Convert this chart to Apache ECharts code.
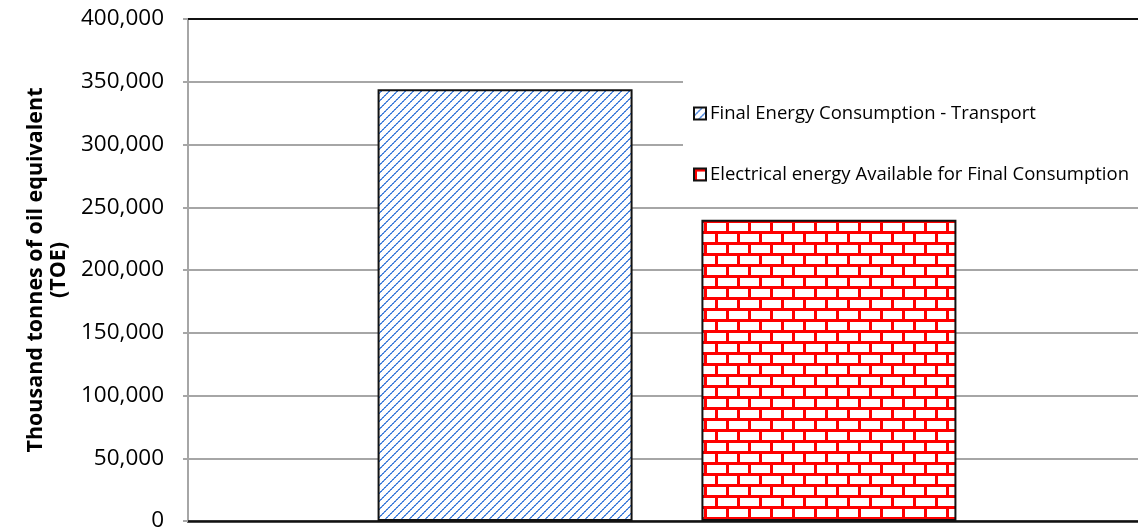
<!DOCTYPE html>
<html>
<head>
<meta charset="utf-8">
<script src="https://cdn.jsdelivr.net/npm/echarts@6/dist/echarts.min.js"></script>
<style>
  html, body { margin: 0; padding: 0; background: #fff; }
  #chart { width: 1138px; height: 530px; }
</style>
</head>
<body>
<div id="chart"></div>
<script>
// Energy totals, thousand tonnes of oil equivalent
const categories = ['Total'];
const seriesNames = [
  'Final Energy Consumption - Transport',
  'Electrical energy Available for Final Consumption'
];
const transportValues = [344000];
const electricalValues = [240000];
const yTicks = [0, 50000, 100000, 150000, 200000, 250000, 300000, 350000, 400000];

const FONT = '"Open Sans", "Liberation Sans", sans-serif';

// Dotted upward-diagonal fill in blue (two-pixel strokes)
function diagonalPattern() {
  const n = 8;
  const c = document.createElement('canvas');
  c.width = n; c.height = n;
  const g = c.getContext('2d');
  g.fillStyle = '#ffffff';
  g.fillRect(0, 0, n, n);
  for (let i = 0; i < n; i++) {
    g.fillStyle = (i % 2 === 0) ? '#3c7ad8' : '#6f9ee6';
    g.fillRect(i, n - 1 - i, 1, 1);
    g.fillRect((i + 1) % n, n - 1 - i, 1, 1);
  }
  return c;
}

// Red brick fill
function brickPattern() {
  const w = 22, h = 22, row = 11, lw = 3;
  const c = document.createElement('canvas');
  c.width = w; c.height = h;
  const g = c.getContext('2d');
  g.fillStyle = '#fff';
  g.fillRect(0, 0, w, h);
  g.fillStyle = '#ff0000';
  g.fillRect(0, 0, w, lw);
  g.fillRect(0, row, w, lw);
  g.fillRect(0, 0, lw, row);
  g.fillRect(w / 2, row, lw, row);
  return c;
}

const chart = echarts.init(document.getElementById('chart'), null, { renderer: 'canvas' });

chart.setOption({
  animation: false,
  backgroundColor: '#fff',
  grid: { left: 188, right: -8, top: 19, bottom: 9, containLabel: false, outerBoundsMode: 'none' },
  legend: {
    orient: 'vertical',
    left: 683,
    top: 76,
    width: 455,
    padding: [28, 40, 14, 10],
    backgroundColor: '#fff',
    itemGap: 42,
    itemWidth: 12,
    itemHeight: 12,
    icon: 'rect',
    textStyle: { fontFamily: FONT, fontSize: 18.5, color: '#000', padding: [0, 0, 0, -1] },
    data: seriesNames
  },
  xAxis: {
    type: 'category',
    data: categories,
    axisLine: { lineStyle: { color: '#111', width: 2.5 } },
    axisTick: { show: false },
    axisLabel: { show: false }
  },
  yAxis: {
    type: 'value',
    min: 0,
    max: 400000,
    interval: 50000,
    name: 'Thousand tonnes of oil equivalent\n(TOE)',
    nameLocation: 'middle',
    nameRotate: 90,
    nameGap: 118,
    nameTextStyle: { fontFamily: FONT, fontSize: 21.5, fontWeight: 'bold', color: '#000', lineHeight: 23, align: 'center' },
    axisLine: { show: true, lineStyle: { color: '#a6a6a6', width: 2 } },
    axisTick: { show: true, length: 5, lineStyle: { color: '#a6a6a6', width: 2 } },
    axisLabel: {
      margin: 24,
      fontFamily: FONT,
      fontSize: 22.5,
      color: '#000',
      formatter: v => yTicks.includes(v) ? v.toLocaleString('en-US') : ''
    },
    splitLine: { lineStyle: { color: '#a6a6a6', width: 2 } }
  },
  series: [
    {
      name: seriesNames[0],
      type: 'bar',
      data: transportValues,
      barWidth: 255,
      barGap: '27%',
      itemStyle: {
        color: { image: diagonalPattern(), repeat: 'repeat' },
        borderColor: '#111',
        borderWidth: 2
      },
      markLine: {
        silent: true,
        symbol: 'none',
        label: { show: false },
        lineStyle: { color: '#111', width: 2, type: 'solid' },
        data: [{ yAxis: 400000 }]
      }
    },
    {
      name: seriesNames[1],
      type: 'bar',
      data: electricalValues,
      barWidth: 255,
      itemStyle: {
        color: { image: brickPattern(), repeat: 'repeat' },
        borderColor: '#111',
        borderWidth: 2
      }
    }
  ]
});
</script>
</body>
</html>
